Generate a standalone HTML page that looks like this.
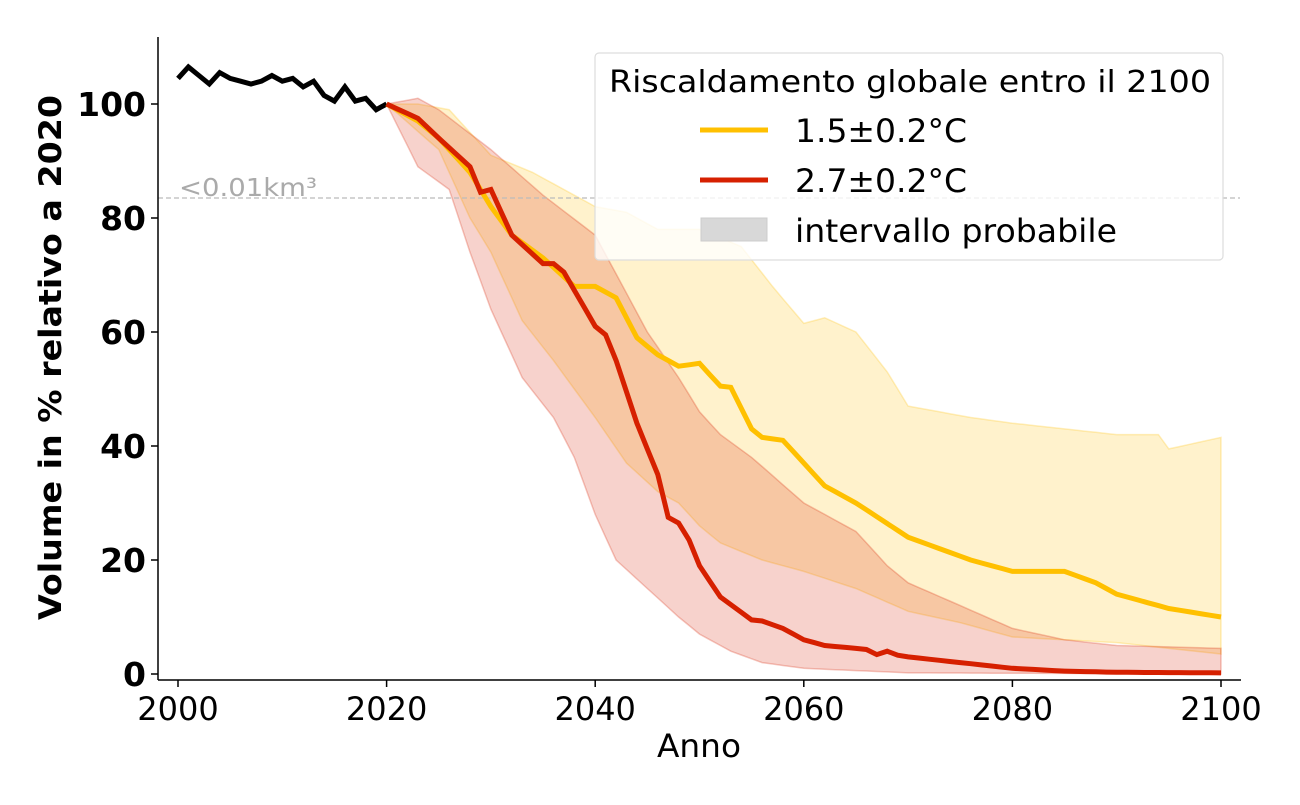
<!DOCTYPE html>
<html><head><meta charset="utf-8"><style>
html,body{margin:0;padding:0;background:#fff;}
svg text{font-family:"DejaVu Sans","Liberation Sans",sans-serif;}
</style></head><body>
<svg id="s" width="1300" height="800" xmlns="http://www.w3.org/2000/svg">
<g id="bands"></g>
<line x1="158" y1="198" x2="1240" y2="198" stroke="#bbb" stroke-width="1.2" stroke-dasharray="5,3"/>
<text x="179" y="196" font-size="25" fill="#aaa" textLength="138" lengthAdjust="spacingAndGlyphs">&lt;0.01km³</text>
<g id="lines"></g>
<line x1="158" y1="37" x2="158" y2="680" stroke="#000" stroke-width="1.5"/>
<line x1="158" y1="680" x2="1241" y2="680" stroke="#000" stroke-width="1.5"/>
<g id="ticks"></g>
<text x="657" y="757" font-size="32" textLength="84" lengthAdjust="spacingAndGlyphs">Anno</text>
<text transform="translate(61,620) rotate(-90)" font-size="31" font-weight="bold" textLength="525" lengthAdjust="spacingAndGlyphs">Volume in % relativo a 2020</text>
<rect x="595" y="53" width="628" height="207" rx="4" fill="#fff" fill-opacity="0.8" stroke="#ddd" stroke-width="1.2"/>
<text x="609" y="92" font-size="30" textLength="602" lengthAdjust="spacingAndGlyphs">Riscaldamento globale entro il 2100</text>
<line x1="700" y1="130" x2="768" y2="130" stroke="#FFC000" stroke-width="5"/>
<text x="795" y="142" font-size="32" textLength="172" lengthAdjust="spacingAndGlyphs">1.5±0.2°C</text>
<line x1="700" y1="180" x2="768" y2="180" stroke="#D62000" stroke-width="5"/>
<text x="795" y="192" font-size="32" textLength="172" lengthAdjust="spacingAndGlyphs">2.7±0.2°C</text>
<rect x="701" y="218" width="66" height="23" fill="#d8d8d8" stroke="#ccc"/>
<text x="795" y="242" font-size="32" textLength="322" lengthAdjust="spacingAndGlyphs">intervallo probabile</text>
</svg>
<script>
function X(y){return 178+(y-2000)*10.43}
function Y(v){return 674-v*5.7}
function interp(a){var o=[];for(var i=0;i<a.length-2;i+=2){var y0=a[i],v0=a[i+1],y1=a[i+2],v1=a[i+3];for(var y=y0;y<y1;y++){o.push([y,v0+(v1-v0)*(y-y0)/(y1-y0)]);}}o.push([a[a.length-2],a[a.length-1]]);return o}
function pts(p){return p.map(function(q){return X(q[0]).toFixed(1)+","+Y(q[1]).toFixed(1)}).join(" ")}
var NS="http://www.w3.org/2000/svg";
function el(g,t,at){var e=document.createElementNS(NS,t);for(var k in at)e.setAttribute(k,at[k]);document.getElementById(g).appendChild(e);return e}
function band(up,lo,c){var u=interp(up),l=interp(lo).reverse();el("bands","polygon",{points:pts(u.concat(l)),fill:c,"fill-opacity":0.2,stroke:c,"stroke-opacity":0.25,"stroke-width":1.5})}
band([2020,100,2023,100,2026,99,2028,95,2030,91,2034,88,2037,85,2040,82,2043,81,2046,78,2050,78,2054,75,2057,68,2060,61.5,2062,62.5,2065,60,2068,53,2070,47,2073,46,2076,45,2080,44,2085,43,2090,42,2094,42,2095,39.5,2100,41.5],
[2020,100,2025,92,2028,80,2030,74,2033,62,2036,55,2038,50,2040,45,2043,37,2046,32,2048,30,2050,26,2052,23,2056,20,2060,18,2065,15,2070,11,2075,9,2080,6.5,2085,6,2090,5.5,2100,3.5],"#FFC000");
band([2020,100,2023,101,2025,99,2030,92,2035,84,2040,77,2045,60,2048,52,2050,46,2052,42,2055,38,2060,30,2065,25,2068,19,2070,16,2075,12,2080,8,2085,6,2090,5,2100,4.5],
[2020,100,2023,89,2026,85,2028,74,2030,64,2033,52,2036,45,2038,38,2040,28,2042,20,2045,15,2048,10,2050,7,2053,4,2056,2,2060,1,2070,0.2,2100,0],"#D62000");
function line(a,c){el("lines","polyline",{points:pts(interp(a)),fill:"none",stroke:c,"stroke-width":5,"stroke-linejoin":"miter"})}
line([2000,104.5,2001,106.5,2002,105,2003,103.5,2004,105.5,2005,104.5,2006,104,2007,103.5,2008,104,2009,105,2010,104,2011,104.5,2012,103,2013,104,2014,101.5,2015,100.5,2016,103,2017,100.5,2018,101,2019,99,2020,100],"#000");
line([2020,100,2023,97,2025,94,2028,88,2030,82,2032,77,2035,73,2038,68,2040,68,2042,66,2044,59,2046,56,2048,54,2050,54.5,2052,50.5,2053,50.3,2055,43,2056,41.5,2058,41,2060,37,2062,33,2065,30,2070,24,2073,22,2076,20,2080,18,2085,18,2088,16,2090,14,2095,11.5,2100,10],"#FFC000");
line([2020,100,2023,97.5,2025,94,2028,89,2029,84.5,2030,85,2032,77,2035,72,2036,72,2037,70.5,2040,61,2041,59.5,2042,55,2044,44,2046,35,2047,27.5,2048,26.5,2049,23.5,2050,19,2052,13.5,2055,9.5,2056,9.3,2058,8,2060,6,2062,5,2065,4.5,2066,4.3,2067,3.4,2068,4,2069,3.3,2070,3,2075,2,2080,1,2085,0.5,2090,0.3,2100,0.2],"#D62000");
for(var v=0;v<=100;v+=20){var y=Y(v);el("ticks","line",{x1:151,y1:y,x2:158,y2:y,stroke:"#000","stroke-width":1.5});var t=el("ticks","text",{x:146,y:y+12,"font-size":33,"font-weight":"bold","text-anchor":"end"});t.textContent=v;}
for(var yr=2000;yr<=2100;yr+=20){var x=X(yr);el("ticks","line",{x1:x,y1:680,x2:x,y2:687,stroke:"#000","stroke-width":1.5});var t=el("ticks","text",{x:x,y:720,"font-size":32,"text-anchor":"middle"});t.textContent=yr;}
</script>
</body></html>
